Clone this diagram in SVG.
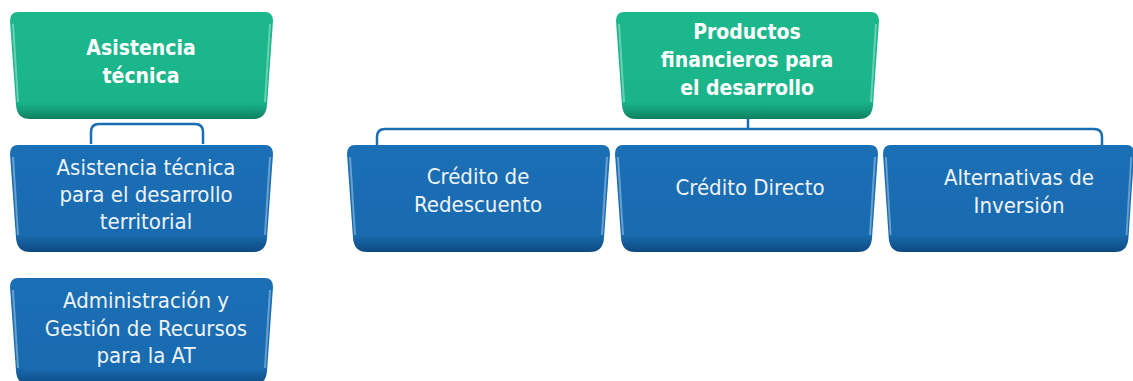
<svg xmlns="http://www.w3.org/2000/svg" width="1133" height="381" viewBox="0 0 1133 381">
<style>
.t{font-family:"DejaVu Sans Condensed","DejaVu Sans","Liberation Sans",sans-serif;font-stretch:condensed;font-size:22px;fill:#eef3f9;text-anchor:middle}
.tb{font-family:"DejaVu Sans Condensed","DejaVu Sans","Liberation Sans",sans-serif;font-stretch:condensed;font-weight:bold;font-size:21px;fill:#ffffff;text-anchor:middle}
.conn{fill:none;stroke:#1a6db3;stroke-width:2.5}
.hl{fill:none;stroke:#ffffff;stroke-opacity:0.35;stroke-width:2}
.edge{fill:none;stroke:#0f4f8a;stroke-opacity:0.5;stroke-width:1}
</style>
<defs>
<linearGradient id="gB" x1="0" y1="0" x2="0" y2="1">
<stop offset="0" stop-color="#1b6fb5"/>
<stop offset="0.84" stop-color="#196bb0"/>
<stop offset="0.92" stop-color="#135a99"/>
<stop offset="1" stop-color="#0e4a80"/>
</linearGradient>
<linearGradient id="gG" x1="0" y1="0" x2="0" y2="1">
<stop offset="0" stop-color="#1cb88c"/>
<stop offset="0.84" stop-color="#1ab489"/>
<stop offset="0.92" stop-color="#159c77"/>
<stop offset="1" stop-color="#0f7f60"/>
</linearGradient>
<path id="shape" d="M8,0 H255 Q263,0 263,9 L257,93 Q256,107 243,107 H20 Q7,107 6,93 L0,9 Q0,0 8,0 Z"/>
<path id="hil" d="M3,12 L8,90"/>
<path id="hir" d="M260,12 L255,90"/>
</defs>

<g id="connectors">
<path class="conn" d="M91,144 V132 Q91,124 99,124 H195 Q203,124 203,132 V144"/>
<path class="conn" d="M748,118 V129"/>
<path class="conn" d="M377,145 V137 Q377,129 385,129 H1094 Q1102,129 1102,137 V145"/>
</g>

<g id="asistencia-tecnica">
<use href="#shape" x="10" y="12" fill="url(#gG)"/>
<use href="#hil" x="10" y="12" class="hl"/>
<use href="#hir" x="10" y="12" class="hl"/>
<text class="tb" x="141" y="55">Asistencia</text>
<text class="tb" x="141" y="83">técnica</text>
</g>

<g id="at-desarrollo-territorial">
<use href="#shape" x="10" y="145" fill="url(#gB)"/>
<use href="#hil" x="10" y="145" class="hl"/>
<use href="#hir" x="10" y="145" class="hl"/>
<text class="t" x="146" y="175">Asistencia técnica</text>
<text class="t" x="146" y="202">para el desarrollo</text>
<text class="t" x="146" y="229">territorial</text>
</g>

<g id="administracion-gestion">
<use href="#shape" x="10" y="278" fill="url(#gB)"/>
<use href="#hil" x="10" y="278" class="hl"/>
<use href="#hir" x="10" y="278" class="hl"/>
<text class="t" x="146" y="308">Administración y</text>
<text class="t" x="146" y="336">Gestión de Recursos</text>
<text class="t" x="146" y="363">para la AT</text>
</g>

<g id="productos-financieros">
<use href="#shape" x="616" y="12" fill="url(#gG)"/>
<use href="#hil" x="616" y="12" class="hl"/>
<use href="#hir" x="616" y="12" class="hl"/>
<text class="tb" x="747" y="39">Productos</text>
<text class="tb" x="747" y="67">financieros para</text>
<text class="tb" x="747" y="95">el desarrollo</text>
</g>

<g id="credito-redescuento">
<use href="#shape" x="347" y="145" fill="url(#gB)"/>
<use href="#hil" x="347" y="145" class="hl"/>
<use href="#hir" x="347" y="145" class="hl"/>
<text class="t" x="478" y="184">Crédito de</text>
<text class="t" x="478" y="212">Redescuento</text>
</g>

<g id="credito-directo">
<use href="#shape" x="615" y="145" fill="url(#gB)"/>
<use href="#hil" x="615" y="145" class="hl"/>
<use href="#hir" x="615" y="145" class="hl"/>
<text class="t" x="750" y="195">Crédito Directo</text>
</g>

<g id="alternativas-inversion">
<g transform="translate(883,145) scale(0.955,1)">
<use href="#shape" fill="url(#gB)"/>
<use href="#hil" class="hl"/>
<use href="#hir" class="hl"/>
</g>
<text class="t" x="1019" y="185">Alternativas de</text>
<text class="t" x="1019" y="213">Inversión</text>
</g>
</svg>
